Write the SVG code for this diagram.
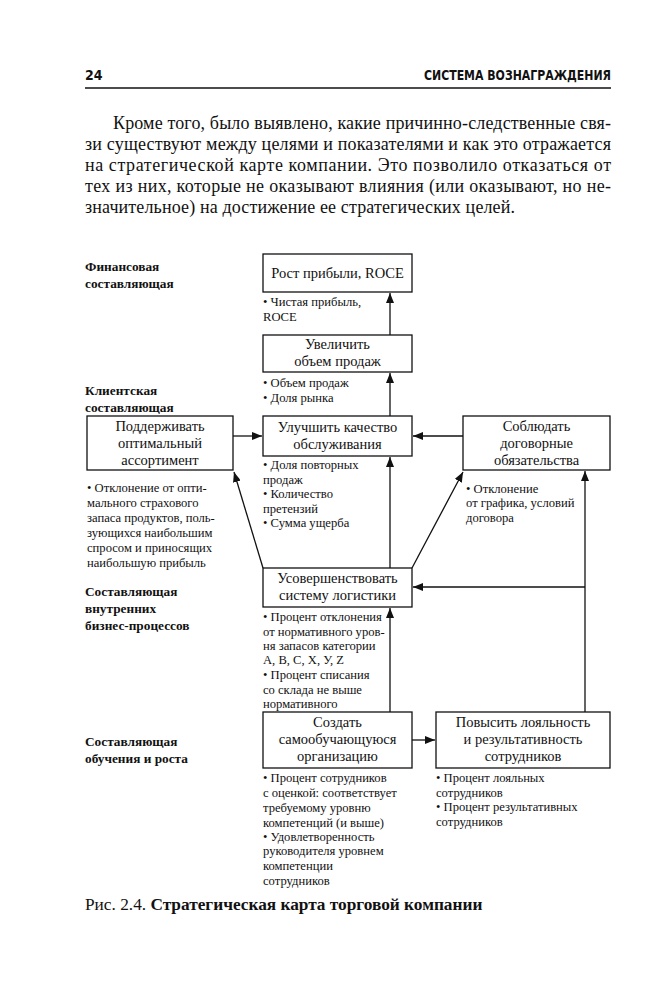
<svg xmlns="http://www.w3.org/2000/svg" width="672" height="1000" viewBox="0 0 672 1000">
<style>
.hdr{font-family:"DejaVu Sans Condensed","Liberation Sans Narrow","Liberation Sans",sans-serif;font-size:14px;font-weight:bold;fill:#111}
.par{font-family:"Liberation Serif",serif;font-size:18px;fill:#111}
.lab{font-family:"Liberation Serif",serif;font-size:13.3px;font-weight:bold;fill:#111}
.box{fill:#fff;stroke:#111;stroke-width:1.3}
.bt{font-family:"Liberation Serif",serif;font-size:14.5px;fill:#111;text-anchor:middle}
.bl{font-family:"Liberation Serif",serif;font-size:12.6px;fill:#111}
.con{stroke:#111;stroke-width:1.3;fill:none;marker-end:url(#ah)}
.cap{font-family:"Liberation Serif",serif;font-size:17.3px;fill:#111}
</style>
<defs>
<marker id="ah" viewBox="0 0 10 8" refX="10" refY="4" markerWidth="10" markerHeight="8" markerUnits="userSpaceOnUse" orient="auto">
<path d="M0,0 L10,4 L0,8 Z" fill="#111"/>
</marker>
</defs>
<rect width="672" height="1000" fill="#fff"/>
<g id="header">
<text class="hdr" x="85" y="80">24</text>
<text class="hdr" x="611" y="80" text-anchor="end" textLength="187" lengthAdjust="spacingAndGlyphs">СИСТЕМА ВОЗНАГРАЖДЕНИЯ</text>
<line x1="85" y1="88" x2="611" y2="88" stroke="#111" stroke-width="1.6"/>
</g>
<g id="paragraph">
<text class="par" x="113" y="129" textLength="498" lengthAdjust="spacing">Кроме того, было выявлено, какие причинно-следственные свя-</text>
<text class="par" x="85" y="150" textLength="526" lengthAdjust="spacing">зи существуют между целями и показателями и как это отражается</text>
<text class="par" x="85" y="171" textLength="526" lengthAdjust="spacing">на стратегической карте компании. Это позволило отказаться от</text>
<text class="par" x="85" y="192" textLength="526" lengthAdjust="spacing">тех из них, которые не оказывают влияния (или оказывают, но не-</text>
<text class="par" x="85" y="213" textLength="430" lengthAdjust="spacing">значительное) на достижение ее стратегических целей.</text>
</g>
<g id="labels">
<text class="lab" x="85" y="271">Финансовая</text>
<text class="lab" x="85" y="288">составляющая</text>
<text class="lab" x="85" y="395">Клиентская</text>
<text class="lab" x="85" y="412">составляющая</text>
<text class="lab" x="85" y="596">Составляющая</text>
<text class="lab" x="85" y="613">внутренних</text>
<text class="lab" x="85" y="630">бизнес-процессов</text>
<text class="lab" x="85" y="746">Составляющая</text>
<text class="lab" x="85" y="763">обучения и роста</text>
</g>
<g id="connectors">
<line class="con" x1="390" y1="335" x2="390" y2="293"/>
<line class="con" x1="390" y1="416" x2="390" y2="373"/>
<line class="con" x1="233" y1="436" x2="262" y2="436"/>
<line class="con" x1="463" y1="436" x2="413" y2="436"/>
<line class="con" x1="263" y1="568" x2="234" y2="472"/>
<line class="con" x1="390" y1="568" x2="390" y2="457"/>
<line class="con" x1="412" y1="568" x2="463" y2="472"/>
<line class="con" x1="585" y1="712" x2="585" y2="471"/>
<line class="con" x1="585" y1="587" x2="413" y2="587"/>
<line class="con" x1="390" y1="712" x2="390" y2="608"/>
<line class="con" x1="412" y1="740" x2="435" y2="740"/>
</g>
<g id="n1">
<rect class="box" x="263" y="254" width="149" height="38"/>
<text class="bt" x="337.5" y="278">Рост прибыли, ROCE</text>
<text class="bl" x="263" y="306">• Чистая прибыль,</text>
<text class="bl" x="263" y="321">ROCE</text>
</g>
<g id="n2">
<rect class="box" x="263" y="335" width="149" height="37"/>
<text class="bt" x="337.5" y="349">Увеличить</text>
<text class="bt" x="337.5" y="366">объем продаж</text>
<text class="bl" x="263" y="387">• Объем продаж</text>
<text class="bl" x="263" y="402">• Доля рынка</text>
</g>
<g id="n3">
<rect class="box" x="87" y="416" width="146" height="54"/>
<text class="bt" x="160" y="431">Поддерживать</text>
<text class="bt" x="160" y="448">оптимальный</text>
<text class="bt" x="160" y="465">ассортимент</text>
<text class="bl" x="87" y="492">• Отклонение от опти-</text>
<text class="bl" x="87" y="507">мального страхового</text>
<text class="bl" x="87" y="522">запаса продуктов, поль-</text>
<text class="bl" x="87" y="537">зующихся наибольшим</text>
<text class="bl" x="87" y="552">спросом и приносящих</text>
<text class="bl" x="87" y="567">наибольшую прибыль</text>
</g>
<g id="n4">
<rect class="box" x="263" y="416" width="149" height="40"/>
<text class="bt" x="337.5" y="432">Улучшить качество</text>
<text class="bt" x="337.5" y="449">обслуживания</text>
<text class="bl" x="263" y="469">• Доля повторных</text>
<text class="bl" x="263" y="484">продаж</text>
<text class="bl" x="263" y="498">• Количество</text>
<text class="bl" x="263" y="513">претензий</text>
<text class="bl" x="263" y="527">• Сумма ущерба</text>
</g>
<g id="n5">
<rect class="box" x="463" y="416" width="147" height="54"/>
<text class="bt" x="536.5" y="431">Соблюдать</text>
<text class="bt" x="536.5" y="448">договорные</text>
<text class="bt" x="536.5" y="465">обязательства</text>
<text class="bl" x="466" y="493">• Отклонение</text>
<text class="bl" x="466" y="507">от графика, условий</text>
<text class="bl" x="466" y="522">договора</text>
</g>
<g id="n6">
<rect class="box" x="263" y="568" width="149" height="39"/>
<text class="bt" x="337.5" y="583">Усовершенствовать</text>
<text class="bt" x="337.5" y="600">систему логистики</text>
<text class="bl" x="263" y="621">• Процент отклонения</text>
<text class="bl" x="263" y="636">от нормативного уров-</text>
<text class="bl" x="263" y="650">ня запасов категории</text>
<text class="bl" x="263" y="664">А, В, С, Х, У, Z</text>
<text class="bl" x="263" y="679">• Процент списания</text>
<text class="bl" x="263" y="694">со склада не выше</text>
<text class="bl" x="263" y="708">нормативного</text>
</g>
<g id="n7">
<rect class="box" x="263" y="712" width="149" height="56"/>
<text class="bt" x="337.5" y="727">Создать</text>
<text class="bt" x="337.5" y="744">самообучающуюся</text>
<text class="bt" x="337.5" y="761">организацию</text>
<text class="bl" x="263" y="782">• Процент сотрудников</text>
<text class="bl" x="263" y="797">с оценкой: соответствует</text>
<text class="bl" x="263" y="812">требуемому уровню</text>
<text class="bl" x="263" y="827">компетенций (и выше)</text>
<text class="bl" x="263" y="841">• Удовлетворенность</text>
<text class="bl" x="263" y="855">руководителя уровнем</text>
<text class="bl" x="263" y="870">компетенции</text>
<text class="bl" x="263" y="885">сотрудников</text>
</g>
<g id="n8">
<rect class="box" x="436" y="712" width="174" height="56"/>
<text class="bt" x="523" y="727">Повысить лояльность</text>
<text class="bt" x="523" y="744">и результативность</text>
<text class="bt" x="523" y="761">сотрудников</text>
<text class="bl" x="436" y="782">• Процент лояльных</text>
<text class="bl" x="436" y="797">сотрудников</text>
<text class="bl" x="436" y="811">• Процент результативных</text>
<text class="bl" x="436" y="826">сотрудников</text>
</g>
<g id="caption">
<text class="cap" x="85" y="910">Рис. 2.4. <tspan font-weight="bold">Стратегическая карта торговой компании</tspan></text>
</g>
</svg>
